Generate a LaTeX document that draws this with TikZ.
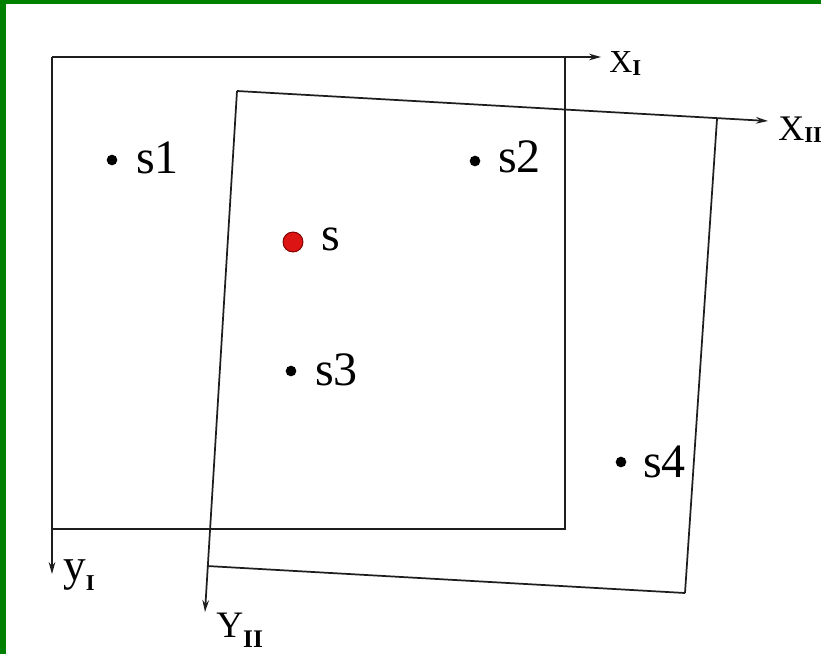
\documentclass[tikz,border=0pt]{standalone}
\usepackage{fontspec}
\setmainfont{Liberation Serif}
\usetikzlibrary{arrows.meta}
\definecolor{frm}{RGB}{0,128,0}
\definecolor{ln}{RGB}{30,30,30}
\definecolor{reddot}{RGB}{220,20,20}
\begin{document}
\begin{tikzpicture}[x=0.75pt,y=-0.75pt,
  frame/.style={draw=ln, line width=1.3pt},
  ax/.style={frame,-{Stealth[length=9pt,width=5pt]}},
  pt/.style={circle,fill=black,inner sep=0pt,minimum size=8pt},
  spt/.style={circle,fill=reddot,draw=red!50!black,line width=0.7pt,inner sep=0pt,minimum size=15pt},
  lbl/.style={anchor=base west,inner sep=0pt,font=\fontsize{36}{36}\selectfont},
  albl/.style={anchor=base west,inner sep=0pt},
]
\useasboundingbox (0,0) rectangle (821,654);
\fill[white] (0,0) rectangle (821,654);
\fill[frm] (0,0) rectangle (821,4);
\fill[frm] (0,0) rectangle (6,654);

% frame I
\coordinate (A1) at (52,57);
\coordinate (B1) at (565,57);
\coordinate (C1) at (565,529);
\coordinate (D1) at (52,529);
\coordinate (XI) at (601,57);
\coordinate (YI) at (52,574);
\draw[ax] (A1) -- (XI);
\draw[ax] (A1) -- (YI);
\draw[frame] (B1) -- (C1) -- (D1);

% frame II
\coordinate (A2) at (237,91);
\coordinate (B2) at (717,119);
\coordinate (C2) at (685,593);
\coordinate (D2) at (207,566);
\coordinate (XII) at (768,121);
\coordinate (YII) at (205,612);
\draw[ax] (A2) -- (XII);
\draw[ax] (A2) -- (YII);
\draw[frame] (B2) -- (C2);
\draw[frame] (D2) -- (C2);

% axis labels
\node[albl,font=\fontsize{24}{24}\selectfont] (xI) at (609,72)
  {X\raisebox{-2.5pt}{\fontsize{17}{17}\selectfont\bfseries I}};
\node[albl,font=\fontsize{27}{27}\selectfont] (xII) at (778,140)
  {X\raisebox{-2pt}{\fontsize{17}{17}\selectfont\bfseries II}};
\node[albl,font=\fontsize{34}{34}\selectfont] (yI) at (63,580)
  {y\raisebox{-7.5pt}{\fontsize{17}{17}\selectfont\bfseries I}};
\node[albl,font=\fontsize{28}{28}\selectfont] (yII) at (216,637)
  {Y\raisebox{-8pt}{\fontsize{19}{19}\selectfont\bfseries II}};

% points
\node[pt] (s1) at (112,160) {};
\node[pt] (s2) at (475,161) {};
\node[spt] (s) at (293,242) {};
\node[pt] (s3) at (291,371) {};
\node[pt] (s4) at (621,462) {};

\node[lbl] (l1) at (136,173) {s1};
\node[lbl] (l2) at (498,172) {s2};
\node[lbl] (l) at (321,250) {s};
\node[lbl] (l3) at (315,385) {s3};
\node[lbl] (l4) at (643,477) {s4};
\end{tikzpicture}
\end{document}
